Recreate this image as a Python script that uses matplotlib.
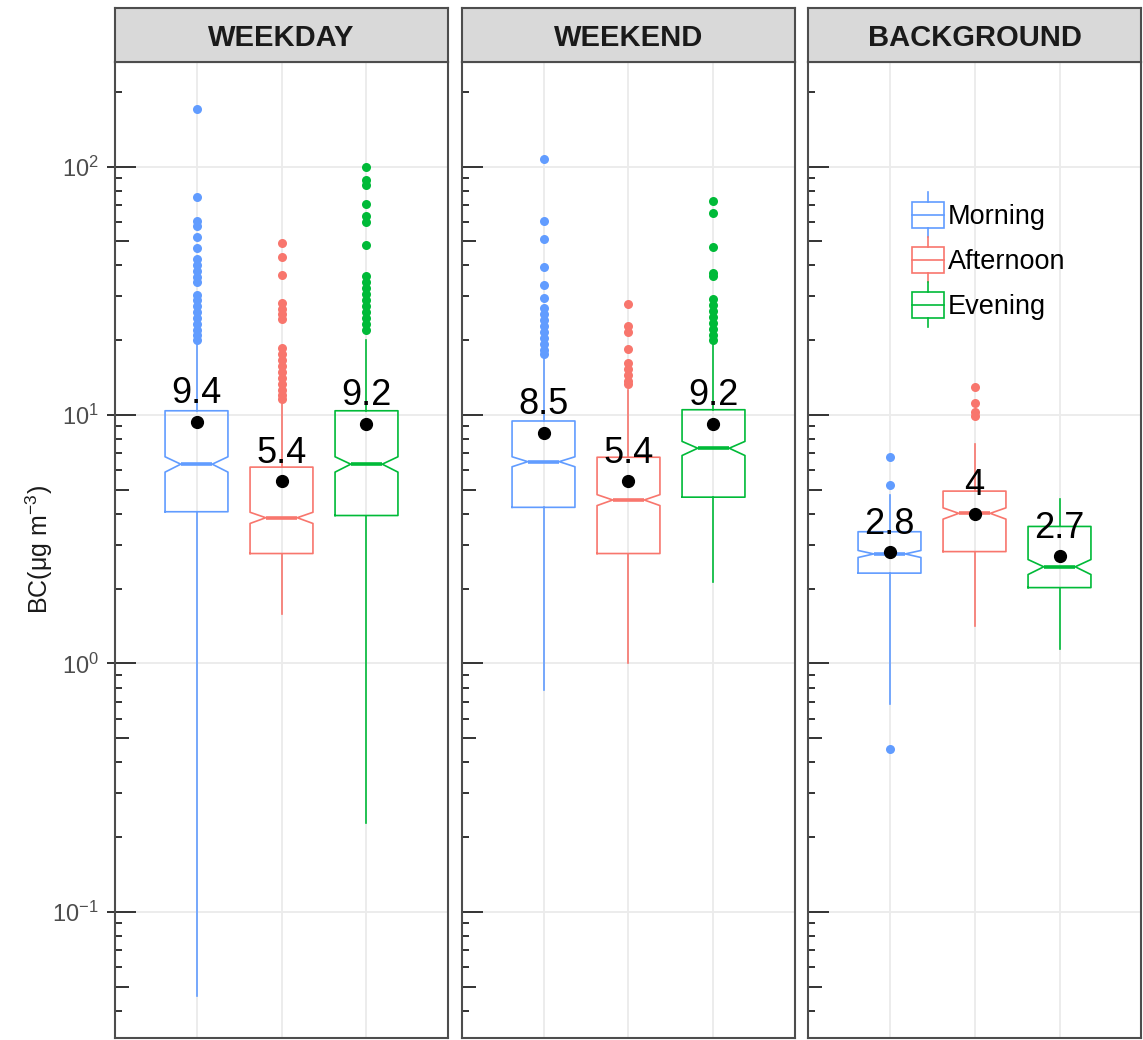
import matplotlib.pyplot as plt
from matplotlib.patches import Rectangle, Patch
from matplotlib.lines import Line2D
from matplotlib.legend_handler import HandlerBase
from matplotlib.ticker import LogLocator, NullLocator

plt.rcParams['font.family'] = ['Liberation Sans', 'DejaVu Sans']
plt.rcParams['mathtext.fontset'] = 'custom'
plt.rcParams['mathtext.rm'] = 'Liberation Sans'
plt.rcParams['mathtext.default'] = 'regular'

sites = ["WEEKDAY", "WEEKEND", "BACKGROUND"]
periods = ["Morning", "Afternoon", "Evening"]
period_colors = ["#619CFF", "#F8766D", "#00BA38"]

# BC box statistics, one row per site, columns Morning / Afternoon / Evening
q1 = [[4.08, 2.77, 3.94], [4.25, 2.77, 4.67], [2.31, 2.82, 2.02]]
medians = [[6.34, 3.86, 6.34], [6.49, 4.55, 7.35], [2.76, 4.02, 2.45]]
q3 = [[10.4, 6.17, 10.4], [9.46, 6.76, 10.5], [3.39, 4.94, 3.56]]
whisk_lo = [[0.046, 1.58, 0.229], [0.78, 1.0, 2.12], [0.69, 1.42, 1.14]]
whisk_hi = [[19.5, 11.1, 20.0], [16.9, 12.6, 19.1], [4.77, 7.62, 4.59]]
notch_half = [[0.45, 0.2, 0.45], [0.3, 0.23, 0.48], [0.09, 0.21, 0.17]]
means = [[9.4, 5.4, 9.2], [8.5, 5.4, 9.2], [2.8, 4.0, 2.7]]

outliers = [
    [
        [170, 75.5, 60.4, 57.7, 51.8, 46.8, 42.3, 40.2, 38.0, 35.9, 34.3, 30.5,
         29.0, 27.5, 26.0, 24.6, 23.2, 22.0, 21.0, 20.0],
        [49.3, 43.3, 36.6, 28.2, 26.7, 25.4, 24.3, 18.6, 17.6, 16.6, 15.7, 14.9,
         14.1, 13.3, 12.6, 12.0, 11.6],
        [100, 88, 84, 70.6, 63.1, 59.7, 48.2, 36.2, 34.3, 32.4, 30.7, 29.0, 27.5,
         26.0, 24.6, 23.2, 22.0],
    ],
    [
        [107, 60.4, 51, 39.5, 33.4, 29.5, 27.0, 25.5, 24.1, 22.8, 21.6, 20.4,
         19.3, 18.3, 17.6],
        [27.9, 22.8, 21.6, 18.4, 16.2, 15.3, 14.5, 13.7, 13.3],
        [72.6, 65.2, 47.5, 37.2, 36.2, 29.3, 27.7, 26.2, 24.8, 23.5, 22.2, 21.0, 20.0],
    ],
    [
        [6.76, 5.21, 0.452],
        [13.0, 11.2, 10.3, 9.9],
        [],
    ],
]


class BoxKey(HandlerBase):
    # small boxplot glyph for the legend
    def create_artists(self, legend, orig_handle, xdescent, ydescent,
                       width, height, fontsize, trans):
        c = orig_handle.get_edgecolor()
        x0, y0 = -xdescent, -ydescent
        xm = x0 + width / 2
        box = Rectangle((x0, y0), width, height, fill=False, ec=c, lw=1.2,
                        transform=trans)
        mid = Line2D([x0, x0 + width], [y0 + height / 2] * 2, color=c, lw=1.2,
                     transform=trans)
        top = Line2D([xm, xm], [y0 + height, y0 + height * 1.35], color=c,
                     lw=1.2, transform=trans)
        bot = Line2D([xm, xm], [y0, y0 - height * 0.35], color=c, lw=1.2,
                     transform=trans)
        return [box, mid, top, bot]


W, H = 1143, 1040
panel_left = [115, 462, 808]
panel_w = 333
strip_top, panel_top, panel_bottom = 8, 62, 1038
ylo, yhi = 0.0311, 263.4
edge = "#4D4D4D"

fig = plt.figure(figsize=(W / 100, H / 100), dpi=100)

for i, site in enumerate(sites):
    ax = fig.add_axes([panel_left[i] / W, (H - panel_bottom) / H,
                       panel_w / W, (panel_bottom - panel_top) / H])
    ax.set_yscale('log')
    ax.set_ylim(ylo, yhi)
    ax.set_xlim(2 - panel_w / 170, 2 + panel_w / 170)
    ax.set_xticks([1, 2, 3])
    ax.yaxis.set_major_locator(LogLocator(base=10, numticks=12))
    ax.yaxis.set_minor_locator(NullLocator())
    ax.grid(True, color="#EBEBEB", lw=1.3)
    ax.set_axisbelow(True)
    ax.tick_params(axis='x', bottom=False, labelbottom=False)
    for s in ax.spines.values():
        s.set_color(edge)
        s.set_linewidth(1.5)

    if i == 0:
        ax.tick_params(axis='y', direction='out', length=5.8, width=1.4,
                       color="#333333", labelsize=17, labelcolor="#4D4D4D", pad=6)
        ax.set_ylabel("BC(μg m$^{-3}$)", fontsize=18, color="#1A1A1A")
        ax.yaxis.set_label_coords(-0.18, 0.5)
    else:
        ax.tick_params(axis='y', left=False, labelleft=False)

    # log ticks on the inside of each panel
    tr = ax.get_yaxis_transform()
    for e in range(-2, 3):
        for k in range(1, 10):
            v = k * 10.0 ** e
            if not ylo < v < yhi:
                continue
            ln = 21 if k == 1 else (14 if k == 5 else 7)
            ax.plot([0, ln / panel_w], [v, v], transform=tr, color="#333333",
                    lw=1.4, solid_capstyle='butt', clip_on=False)

    for j, col in enumerate(periods):
        c = period_colors[j]
        st = dict(med=medians[i][j], q1=q1[i][j], q3=q3[i][j],
                  whislo=whisk_lo[i][j], whishi=whisk_hi[i][j],
                  cilo=medians[i][j] - notch_half[i][j],
                  cihi=medians[i][j] + notch_half[i][j],
                  fliers=outliers[i][j])
        ax.bxp([st], positions=[j + 1], widths=0.74, shownotches=True,
               showcaps=False, manage_ticks=False,
               boxprops=dict(color=c, lw=1.2),
               whiskerprops=dict(color=c, lw=1.2),
               medianprops=dict(color=c, lw=2.6, solid_capstyle='butt'),
               flierprops=dict(marker='o', markerfacecolor=c,
                               markeredgecolor='none', markersize=6.5))
        m = means[i][j]
        ax.plot(j + 1, m, 'o', color='black', markersize=8.5, zorder=5)
        ax.annotate(f"{m:g}", (j + 1, m), xytext=(0, 13.5),
                    textcoords='offset points', ha='center', va='baseline',
                    fontsize=26, color='black', zorder=6)

    # facet strip
    sax = fig.add_axes([panel_left[i] / W, (H - panel_top) / H,
                        panel_w / W, (panel_top - strip_top) / H])
    sax.set_facecolor("#D9D9D9")
    sax.set_xticks([])
    sax.set_yticks([])
    for s in sax.spines.values():
        s.set_color(edge)
        s.set_linewidth(1.5)
    sax.text(0.5, 0.45, site, ha='center', va='center', fontsize=21,
             fontweight='bold', color="#1A1A1A", transform=sax.transAxes)

    if i == 2:
        handles = [Patch(edgecolor=c, facecolor='none', label=p)
                   for p, c in zip(periods, period_colors)]
        ax.legend(handles=handles, loc='upper left',
                  bbox_to_anchor=(0.312, 0.857), frameon=False, fontsize=19.5,
                  handlelength=32 / 27, handleheight=1.1,
                  handletextpad=0.15, labelspacing=0.62, borderpad=0,
                  borderaxespad=0, handler_map={Patch: BoxKey()})

fig.savefig("out.png", dpi=100)
